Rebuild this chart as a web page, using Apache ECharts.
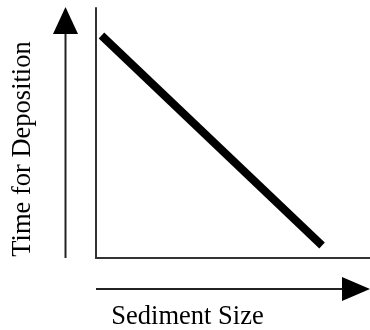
<!DOCTYPE html>
<html>
<head>
<meta charset="utf-8">
<script src="https://cdn.jsdelivr.net/npm/echarts@6/dist/echarts.min.js"></script>
<style>
  html, body { margin: 0; padding: 0; background: #fff; }
  #chart { width: 370px; height: 330px; }
</style>
</head>
<body>
<div id="chart"></div>
<script>
// Sediment size (x) versus time needed for deposition (y), relative units
const sedimentSize = [2, 82.5];
const depositionTime = [89, 5];
const xTitle = 'Sediment Size';
const yTitle = 'Time for Deposition';

const chart = echarts.init(document.getElementById('chart'), null, { renderer: 'canvas' });
const serif = '"Liberation Serif", "Times New Roman", serif';

chart.setOption({
  animation: false,
  backgroundColor: '#ffffff',
  grid: { left: 96, right: 0, top: 8, bottom: 72, containLabel: false },
  xAxis: {
    type: 'value', min: 0, max: 100,
    axisLine: { show: true, onZero: false, lineStyle: { color: '#333', width: 2 } },
    axisTick: { show: false }, axisLabel: { show: false }, splitLine: { show: false }
  },
  yAxis: {
    type: 'value', min: 0, max: 100,
    axisLine: { show: true, onZero: false, lineStyle: { color: '#333', width: 2 } },
    axisTick: { show: false }, axisLabel: { show: false }, splitLine: { show: false }
  },
  series: [{
    type: 'line',
    data: sedimentSize.map((x, i) => [x, depositionTime[i]]),
    symbol: 'none',
    lineStyle: { color: '#000', width: 8, cap: 'butt' }
  }],
  graphic: [
    // vertical arrow beside the y axis
    { type: 'line', shape: { x1: 65.5, y1: 258, x2: 65.5, y2: 30 }, style: { stroke: '#222', lineWidth: 2 } },
    { type: 'polygon', shape: { points: [[65.5, 7], [78, 34], [53, 34]] }, style: { fill: '#000' } },
    // horizontal arrow below the x axis
    { type: 'line', shape: { x1: 96, y1: 289, x2: 345, y2: 289 }, style: { stroke: '#222', lineWidth: 2 } },
    { type: 'polygon', shape: { points: [[370, 289], [342, 277], [342, 301]] }, style: { fill: '#000' } },
    // axis titles
    { type: 'text', x: 187.5, y: 317.5, style: { text: xTitle, font: '26.5px ' + serif, fill: '#000', textAlign: 'center', textVerticalAlign: 'middle' } },
    { type: 'text', x: 23, y: 149, rotation: Math.PI / 2, style: { text: yTitle, font: '26.5px ' + serif, fill: '#000', textAlign: 'center', textVerticalAlign: 'middle' } }
  ]
});
</script>
</body>
</html>
